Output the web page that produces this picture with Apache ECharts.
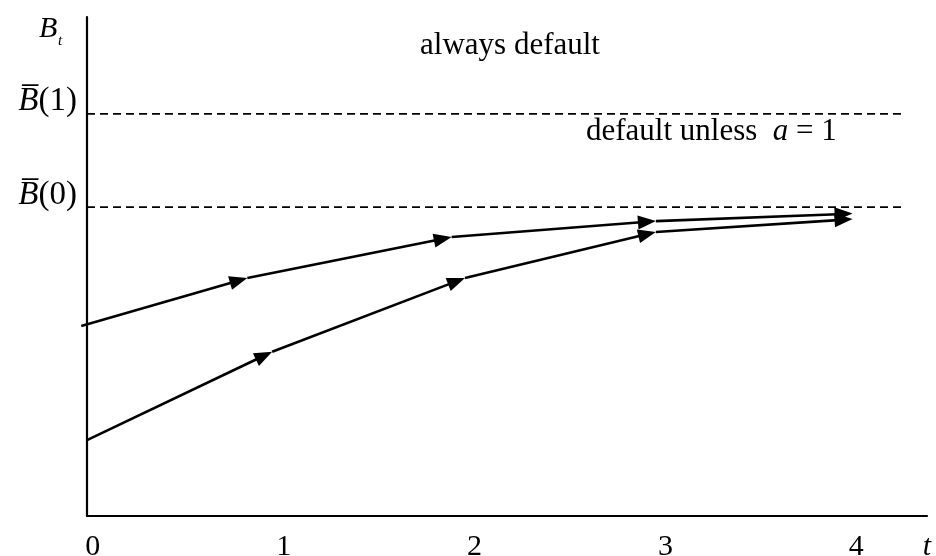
<!DOCTYPE html>
<html><head><meta charset="utf-8">
<script src="https://cdn.jsdelivr.net/npm/echarts@6/dist/echarts.min.js"></script>
<style>html,body{margin:0;padding:0;background:#fff}#c{width:936px;height:556px}</style>
</head><body><div id="c"></div>
<script>
// ---- data ----
const xTicks = [0, 1, 2, 3, 4];
const xRange = [-0.03, 4.37];
const yRange = [0, 10];
const levelNames = ['0', '1'];          // B̄(0), B̄(1)
const levelValues = [6.19, 8.06];
const levelStartX = -0.03;
const levelEndX = 4.245;
const upperX = [-0.06, 0.81, 1.88, 2.95, 3.98];
const upperY = [3.81, 4.77, 5.59, 5.91, 6.06];
const lowerX = [-0.03, 0.94, 1.95, 2.95, 3.98];
const lowerY = [1.52, 3.29, 4.77, 5.69, 5.95];

const FONT = '"Liberation Serif","Times New Roman",serif';

function segments(xs, ys) {
  const out = [];
  for (let i = 0; i < xs.length - 1; i++) out.push([xs[i], ys[i], xs[i + 1], ys[i + 1]]);
  return out;
}

function renderSeg(params, api) {
  const p0 = api.coord([api.value(0), api.value(1)]);
  const p1 = api.coord([api.value(2), api.value(3)]);
  const dx = p1[0] - p0[0], dy = p1[1] - p0[1], L = Math.hypot(dx, dy);
  const ux = dx / L, uy = dy / L;
  const len = 18, hw = 7;
  const bx = p1[0] - ux * len, by = p1[1] - uy * len;
  const nx = -uy, ny = ux;
  return {
    type: 'group',
    children: [
      { type: 'line', shape: { x1: p0[0], y1: p0[1], x2: bx + ux * 3, y2: by + uy * 3 },
        style: { stroke: '#000', lineWidth: 2.6 } },
      { type: 'polygon', shape: { points: [[p1[0], p1[1]], [bx + nx * hw, by + ny * hw], [bx - nx * hw, by - ny * hw]] },
        style: { fill: '#000' } }
    ]
  };
}

const chart = echarts.init(document.getElementById('c'), null, { renderer: 'canvas' });

const series = [];
levelValues.forEach((v) => {
  series.push({
    type: 'line', symbol: 'none', silent: true, animation: false,
    data: [[levelStartX, v], [levelEndX, v]],
    lineStyle: { color: '#000', width: 1.8, type: [8, 5] }
  });
});
[[upperX, upperY], [lowerX, lowerY]].forEach(([xs, ys]) => {
  series.push({
    type: 'custom', clip: false, animation: false, silent: true,
    renderItem: renderSeg,
    dimensions: ['x0', 'y0', 'x1', 'y1'],
    encode: { x: [0, 2], y: [1, 3] },
    data: segments(xs, ys)
  });
});

chart.setOption({
  animation: false,
  backgroundColor: '#fff',
  grid: { left: 87, right: 9, top: 17, bottom: 40, containLabel: false, outerBoundsMode: 'none' },
  xAxis: {
    type: 'value', min: xRange[0], max: xRange[1],
    axisLine: { show: true, onZero: false, lineStyle: { color: '#000', width: 2.2 } },
    axisTick: { show: false },
    splitLine: { show: false },
    axisLabel: {
      customValues: xTicks, margin: 16, color: '#000', fontFamily: FONT, fontSize: 30,
      formatter: (v) => String(Math.round(v))
    },
    name: 't', nameLocation: 'end', nameGap: 0,
    nameTextStyle: { color: '#000', fontFamily: FONT, fontSize: 30, fontStyle: 'italic',
      align: 'center', verticalAlign: 'top', padding: [16, 0, 0, 0] }
  },
  yAxis: {
    type: 'value', min: yRange[0], max: yRange[1],
    axisLine: { show: true, onZero: false, lineStyle: { color: '#000', width: 2.2 } },
    axisTick: { show: false },
    splitLine: { show: false },
    axisLabel: {
      customValues: levelValues, margin: 10, verticalAlign: 'bottom', align: 'right',
      formatter: (v) => {
        const i = levelValues.indexOf(v);
        return '{b|B\u0305}{n|(' + levelNames[i] + ')}';
      },
      rich: {
        b: { fontFamily: FONT, fontSize: 33, lineHeight: 24, fontStyle: 'italic', color: '#000' },
        n: { fontFamily: FONT, fontSize: 33, lineHeight: 24, color: '#000' }
      }
    }
  },
  graphic: [
    { type: 'text', left: 39, top: 14, silent: true,
      style: { text: 'B', font: 'italic 30px ' + FONT, fill: '#000' } },
    { type: 'text', left: 58, top: 34, silent: true,
      style: { text: 't', font: 'italic 15px ' + FONT, fill: '#000' } },
    { type: 'text', x: 510, y: 46, silent: true,
      style: { text: 'always default', font: '31px ' + FONT, fill: '#000', align: 'center', verticalAlign: 'middle' } },
    { type: 'text', x: 586, y: 132, silent: true,
      style: {
        text: '{r|default unless  }{i|a}{r| = 1}', align: 'left', verticalAlign: 'middle',
        rich: {
          r: { fontFamily: FONT, fontSize: 31, color: '#000' },
          i: { fontFamily: FONT, fontSize: 31, fontStyle: 'italic', color: '#000' }
        }
      } }
  ],
  series: series
});
</script>
</body></html>
